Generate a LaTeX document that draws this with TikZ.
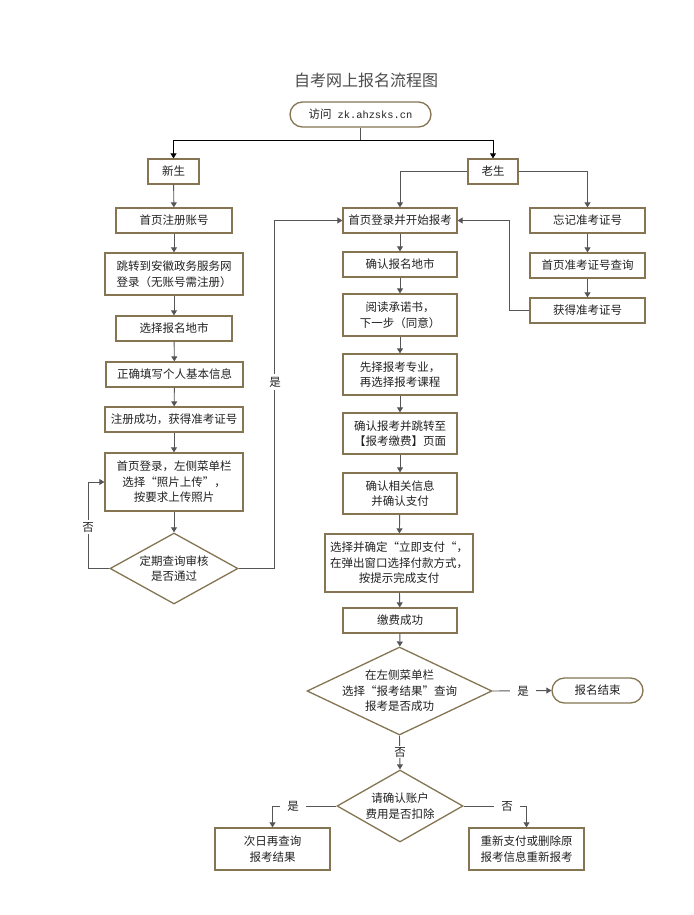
\documentclass[tikz,border=0pt]{standalone}
\usepackage{fontspec}
\setmainfont{Noto Sans CJK SC}
\newfontfamily\urlfont{Liberation Mono}
\usetikzlibrary{arrows.meta,shapes.geometric}
\definecolor{bord}{HTML}{857552}
\definecolor{txt}{HTML}{222222}
\definecolor{ln}{HTML}{555555}
\begin{document}
\begin{tikzpicture}[x=1pt,y=-1pt,
  box/.style={draw=bord, line width=1.3pt, fill=white, inner sep=0pt, align=center,
    font=\fontsize{11.5}{15.5}\selectfont, text=txt},
  term/.style={box, rounded corners=12.5pt},
  dia/.style={draw=bord, line width=1.3pt, fill=white, diamond, inner sep=0pt, aspect=2},
  dtext/.style={align=center, font=\fontsize{11.5}{15.5}\selectfont, text=txt, inner sep=0pt},
  lab/.style={fill=white, inner sep=2.5pt, font=\fontsize{11.5}{13}\selectfont, text=txt},
  conn/.style={draw=ln, line width=0.9pt},
  arr/.style={conn, -{Triangle[length=5pt,width=6pt]}}]
\useasboundingbox (0,0) rectangle (693,915);
\fill[white] (0,0) rectangle (693,915);

% title
\node[font=\fontsize{16}{18}\selectfont, text=black!70] (title) at (366,80) {自考网上报名流程图};

% start
\node[term, minimum width=141pt, minimum height=25pt] (start) at (360.5,114.5)
  {访问\hspace{6pt}{\urlfont\fontsize{10.4}{12}\selectfont zk.ahzsks.cn}};
\coordinate (split) at (360.5,140);

\node[box, minimum width=51pt, minimum height=25pt] (new) at (173.5,171.5) {新生};
\node[box, minimum width=50pt, minimum height=25pt] (old) at (493,171.5) {老生};

% left column
\node[box, minimum width=116pt, minimum height=25pt] (reg) at (174,220.5) {首页注册账号};
\node[box, minimum width=138pt, minimum height=42pt] (jump) at (174,274) {跳转到安徽政务服务网\\登录（无账号需注册）};
\node[box, minimum width=116pt, minimum height=25pt] (city) at (174,328.5) {选择报名地市};
\node[box, minimum width=137pt, minimum height=25pt] (fill) at (174.5,374.5) {正确填写个人基本信息};
\node[box, minimum width=138pt, minimum height=25pt] (okreg) at (174,419.5) {注册成功，获得准考证号};
\node[box, minimum width=138pt, minimum height=58pt] (upload) at (174,482) {首页登录，左侧菜单栏\\选择“照片上传”，\\按要求上传照片};
\node[dia, minimum width=128pt, minimum height=71pt] (check) at (174,568.5) {};
\node[dtext] (checkt) at (check) {定期查询审核\\是否通过};

% middle column
\node[box, minimum width=114pt, minimum height=25pt] (login) at (400,220.5) {首页登录并开始报考};
\node[box, minimum width=114pt, minimum height=25pt] (addr) at (400,264.5) {确认报名地市};
\node[box, minimum width=114pt, minimum height=42pt] (read) at (400,315) {阅读承诺书，\\下一步（同意）};
\node[box, minimum width=114pt, minimum height=41pt] (major) at (400,374.5) {先择报考专业，\\再选择报考课程};
\node[box, minimum width=114pt, minimum height=41pt] (confirm) at (400,433.5) {确认报考并跳转至\\【报考缴费】页面};
\node[box, minimum width=114pt, minimum height=41pt] (info) at (400,493.5) {确认相关信息\\并确认支付};
\node[box, minimum width=148pt, minimum height=58pt] (pay) at (399,563) {选择并确定“立即支付“，\\在弹出窗口选择付款方式，\\按提示完成支付};
\node[box, minimum width=114pt, minimum height=25pt] (paid) at (400,620.5) {缴费成功};
\node[dia, minimum width=185pt, minimum height=88pt] (result) at (399.5,691) {};
\node[dtext] (resultt) at (result) {在左侧菜单栏\\选择“报考结果”查询\\报考是否成功};
\node[term, minimum width=91pt, minimum height=25pt] (end) at (597.5,690.5) {报名结束};
\node[dia, minimum width=126pt, minimum height=72pt] (fee) at (400,806) {};
\node[dtext] (feet) at (fee) {请确认账户\\费用是否扣除};
\node[box, minimum width=115pt, minimum height=42pt] (next) at (272.5,849) {次日再查询\\报考结果};
\node[box, minimum width=115pt, minimum height=42pt] (redo) at (526.5,849) {重新支付或删除原\\报考信息重新报考};

% right column
\node[box, minimum width=115pt, minimum height=25pt] (forget) at (587.5,220.5) {忘记准考证号};
\node[box, minimum width=115pt, minimum height=25pt] (query) at (587.5,265.5) {首页准考证号查询};
\node[box, minimum width=115pt, minimum height=25pt] (getno) at (587.5,310.5) {获得准考证号};

% connectors
\draw[conn] (start.south) -- (split);
\draw[arr, draw=black, line width=0.8pt] (split) -| (new.north);
\draw[arr, draw=black, line width=0.8pt] (split) -| (old.north);
\draw[arr] (old.west) -| (login.north);
\draw[arr] (old.east) -| (forget.north);

\draw[arr] (new) -- (reg);
\draw[arr] (reg) -- (jump);
\draw[arr] (jump) -- (city);
\draw[arr] (city) -- (fill);
\draw[arr] (fill) -- (okreg);
\draw[arr] (okreg) -- (upload);
\draw[arr] (upload) -- (check);
\coordinate (noL) at (88,568.5);
\draw[arr] (check.west) -- (noL) |- (upload.west);
\node[lab] (noLt) at (88,527) {否};
\coordinate (yesL) at (274,568.5);
\draw[arr] (check.east) -- (yesL) |- (login.west);
\node[lab] (yesLt) at (275,382) {是};

\draw[arr] (login) -- (addr);
\draw[arr] (addr) -- (read);
\draw[arr] (read) -- (major);
\draw[arr] (major) -- (confirm);
\draw[arr] (confirm) -- (info);
\draw[arr] (info) -- (pay);
\draw[arr] (pay) -- (paid);
\draw[arr] (paid) -- (result);
\draw[arr] (result.east) -- (end.west);
\node[lab, inner xsep=7pt] (yesR) at (523,691) {是};
\draw[arr] (result.south) -- (fee.north);
\node[lab, inner sep=1pt] (noR) at (400,752) {否};
\draw[arr] (fee.west) -| (next.north);
\node[lab, inner xsep=7pt] (yesF) at (293,806) {是};
\draw[arr] (fee.east) -| (redo.north);
\node[lab, inner xsep=7pt] (noF) at (507,806) {否};

\draw[arr] (forget) -- (query);
\draw[arr] (query) -- (getno);
\coordinate (back) at (509,310.5);
\draw[arr] (getno.west) -- (back) |- (login.east);
\end{tikzpicture}
\end{document}
